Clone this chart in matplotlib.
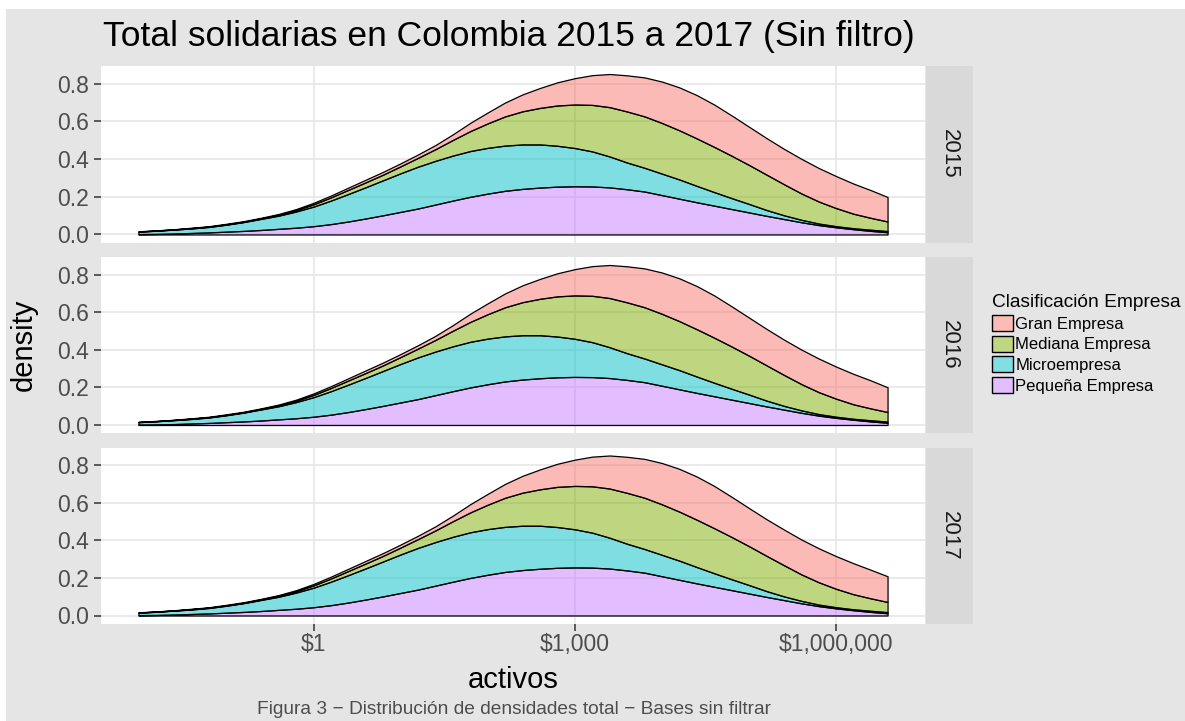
import numpy as np
import matplotlib
matplotlib.use("Agg")
import matplotlib.pyplot as plt
from matplotlib.patches import Rectangle, Patch
from matplotlib.colors import to_rgba, to_rgb

plt.rcParams['font.family'] = ['Liberation Sans', 'DejaVu Sans']

# ---------------- data ----------------
years = ["2015", "2016", "2017"]
categories = ["Gran Empresa", "Mediana Empresa", "Microempresa", "Pequeña Empresa"]
cat_colors = ["#F8766D", "#7CAE00", "#00BFC4", "#C77CFF"]

# x positions of the density estimates (log10 of activos)
activos_log10 = [-2.01, -1.8, -1.6, -1.4, -1.2, -1.0, -0.8, -0.6, -0.4, -0.2,
                 0.0, 0.2, 0.4, 0.6, 0.8, 1.0, 1.2, 1.4, 1.6, 1.8,
                 2.0, 2.2, 2.4, 2.6, 2.8, 3.0, 3.2, 3.4, 3.6, 3.8,
                 4.0, 4.2, 4.4, 4.6, 4.8, 5.0, 5.2, 5.4, 5.6, 5.8,
                 6.0, 6.2, 6.4, 6.59]

# densities per category (stacked bottom -> top: Pequeña, Micro, Mediana, Gran)
pequena_2015 = [0.002, 0.003, 0.005, 0.008, 0.011, 0.015, 0.019, 0.024, 0.030, 0.036,
                0.044, 0.055, 0.069, 0.085, 0.102, 0.120, 0.138, 0.159, 0.180, 0.200,
                0.217, 0.232, 0.242, 0.249, 0.254, 0.256, 0.255, 0.250, 0.240, 0.228,
                0.209, 0.190, 0.171, 0.153, 0.135, 0.117, 0.099, 0.082, 0.065, 0.050,
                0.038, 0.028, 0.019, 0.012]
micro_2015 = [0.013, 0.017, 0.021, 0.024, 0.029, 0.037, 0.047, 0.059, 0.070, 0.086,
              0.104, 0.125, 0.146, 0.166, 0.186, 0.205, 0.222, 0.232, 0.239, 0.243,
              0.243, 0.240, 0.236, 0.229, 0.217, 0.203, 0.186, 0.164, 0.142, 0.126,
              0.114, 0.102, 0.087, 0.072, 0.058, 0.045, 0.031, 0.020, 0.013, 0.008,
              0.006, 0.005, 0.006, 0.006]
mediana_2015 = [0.001, 0.001, 0.001, 0.002, 0.002, 0.002, 0.002, 0.003, 0.005, 0.007,
                0.012, 0.017, 0.022, 0.026, 0.030, 0.037, 0.047, 0.062, 0.083, 0.106,
                0.130, 0.155, 0.176, 0.194, 0.214, 0.231, 0.247, 0.262, 0.271, 0.273,
                0.269, 0.261, 0.252, 0.240, 0.225, 0.207, 0.188, 0.165, 0.140, 0.117,
                0.096, 0.077, 0.063, 0.051]
gran_2015 = [0.001, 0.001, 0.001, 0.002, 0.002, 0.003, 0.003, 0.003, 0.004, 0.006,
             0.008, 0.010, 0.012, 0.014, 0.015, 0.016, 0.018, 0.022, 0.030, 0.044,
             0.058, 0.074, 0.090, 0.106, 0.123, 0.140, 0.158, 0.176, 0.192, 0.207,
             0.220, 0.228, 0.230, 0.225, 0.214, 0.203, 0.194, 0.188, 0.184, 0.178,
             0.170, 0.160, 0.147, 0.130]

# 2016 reads the same as 2015 in the picture
pequena_2016 = list(pequena_2015)
micro_2016 = list(micro_2015)
mediana_2016 = list(mediana_2015)
gran_2016 = [0.001, 0.001, 0.001, 0.002, 0.002, 0.003, 0.003, 0.003, 0.004, 0.006,
             0.008, 0.010, 0.012, 0.014, 0.015, 0.016, 0.018, 0.022, 0.030, 0.044,
             0.058, 0.074, 0.090, 0.106, 0.123, 0.140, 0.158, 0.176, 0.192, 0.207,
             0.220, 0.228, 0.230, 0.225, 0.214, 0.203, 0.194, 0.188, 0.184, 0.179,
             0.171, 0.162, 0.149, 0.132]

# 2017: slightly heavier right tail
pequena_2017 = list(pequena_2015)
micro_2017 = list(micro_2015)
mediana_2017 = [0.001, 0.001, 0.001, 0.002, 0.002, 0.002, 0.002, 0.003, 0.005, 0.007,
                0.012, 0.017, 0.022, 0.026, 0.030, 0.037, 0.047, 0.062, 0.083, 0.106,
                0.130, 0.155, 0.176, 0.194, 0.214, 0.231, 0.247, 0.262, 0.271, 0.273,
                0.269, 0.261, 0.252, 0.240, 0.225, 0.207, 0.188, 0.166, 0.141, 0.119,
                0.098, 0.080, 0.066, 0.054]
gran_2017 = [0.001, 0.001, 0.001, 0.002, 0.002, 0.003, 0.003, 0.003, 0.004, 0.006,
             0.008, 0.010, 0.012, 0.014, 0.015, 0.016, 0.018, 0.022, 0.030, 0.044,
             0.058, 0.074, 0.090, 0.106, 0.123, 0.140, 0.158, 0.176, 0.192, 0.207,
             0.220, 0.228, 0.230, 0.225, 0.214, 0.203, 0.195, 0.190, 0.186, 0.181,
             0.174, 0.165, 0.152, 0.137]

x_ticks = [1, 1000, 1000000]
x_tick_labels = ["$1", "$1,000", "$1,000,000"]
y_ticks = [0.0, 0.2, 0.4, 0.6, 0.8]
y_tick_labels = ["0.0", "0.2", "0.4", "0.6", "0.8"]

title = "Total solidarias en Colombia 2015 a 2017 (Sin filtro)"
x_label = "activos"
y_label = "density"
legend_title = "Clasificación Empresa"
caption = "Figura 3 \u2212 Distribución de densidades total \u2212 Bases sin filtrar"

series = {
    "2015": [pequena_2015, micro_2015, mediana_2015, gran_2015],
    "2016": [pequena_2016, micro_2016, mediana_2016, gran_2016],
    "2017": [pequena_2017, micro_2017, mediana_2017, gran_2017],
}
stack_colors = [cat_colors[3], cat_colors[2], cat_colors[1], cat_colors[0]]

# ---------------- figure ----------------
W, H = 1185, 721
fig = plt.figure(figsize=(W / 100, H / 100), dpi=100)
fig.patch.set_facecolor("white")
BG = "#E5E5E5"
fig.add_artist(Rectangle((6 / W, 0), 1 - 6 / W, 1 - 9 / H, transform=fig.transFigure,
                         facecolor=BG, edgecolor="none", zorder=-10))

def fx(px):
    return px / W

def fy(py):
    return 1 - py / H

panel_left, panel_right = 101, 925
strip_left, strip_right = 926, 973
panel_rows = [(66, 242.5), (257, 433), (447.5, 623.5)]

x = 10 ** np.array(activos_log10)
lx0, lx1 = min(activos_log10), max(activos_log10)
pad_x = 0.05 * (lx1 - lx0)
totals = [np.sum(np.array(series[y]), axis=0).max() for y in years]
ymax = max(totals)
pad_y = 0.05 * ymax

for i, (year, (top, bot)) in enumerate(zip(years, panel_rows)):
    ax = fig.add_axes([fx(panel_left), fy(bot), fx(panel_right - panel_left), (bot - top) / H])
    ax.set_facecolor("white")
    ax.set_xscale("log")
    ax.set_xlim(10 ** (lx0 - pad_x), 10 ** (lx1 + pad_x))
    ax.set_ylim(-pad_y, ymax + pad_y)
    for s in ax.spines.values():
        s.set_visible(False)
    ax.set_axisbelow(True)
    ax.grid(True, which="major", color="#E6E6E6", linewidth=1.2)
    ax.minorticks_off()
    ax.set_xticks(x_ticks)
    ax.set_yticks(y_ticks)
    ax.set_yticklabels(y_tick_labels)
    ax.tick_params(axis="both", length=5, width=1.1, color="#333333",
                   labelsize=16.5, labelcolor="#4D4D4D")
    ax.tick_params(axis="y", pad=4)
    if i == len(years) - 1:
        ax.set_xticklabels(x_tick_labels)
        ax.tick_params(axis="x", pad=2)
    else:
        ax.set_xticklabels([])
        ax.tick_params(axis="x", length=0)

    base = np.zeros(len(x))
    for dens, col in zip(series[year], stack_colors):
        topv = base + np.array(dens)
        ax.fill_between(x, base, topv, facecolor=to_rgba(col, 0.5),
                        edgecolor="black", linewidth=0.9, zorder=2)
        base = topv

    # strip
    sax = fig.add_axes([fx(strip_left), fy(bot), fx(strip_right - strip_left), (bot - top) / H])
    sax.set_facecolor("#D9D9D9")
    sax.set_xticks([])
    sax.set_yticks([])
    for s in sax.spines.values():
        s.set_visible(False)
    sax.text(0.5, 0.5, year, rotation=-90, ha="center", va="center",
             fontsize=16, color="#1A1A1A", transform=sax.transAxes)

# titles
fig.text(fx(103), fy(46), title, fontsize=25.5, ha="left", va="baseline", color="black")
fig.text(fx(513), fy(688), x_label, fontsize=21, ha="center", va="baseline", color="black")
fig.text(fx(24), fy(345), y_label, fontsize=21, ha="center", va="center",
         rotation=90, color="black")
fig.text(fx(514), fy(714), caption, fontsize=13.8, ha="center", va="baseline", color="#4D4D4D")

# legend
def blend(c, a=0.5):
    r, g, b = to_rgb(c)
    return (1 - a + a * r, 1 - a + a * g, 1 - a + a * b)

handles = [Patch(facecolor=blend(c), edgecolor="black", linewidth=1.0) for c in cat_colors]
leg = fig.legend(handles, categories, loc="upper left",
                 bbox_to_anchor=(fx(992), fy(294)), frameon=False,
                 fontsize=12, title=legend_title, title_fontsize=13.8,
                 handlelength=1.25, handleheight=1.1, handletextpad=0.15,
                 labelspacing=0.24, borderpad=0, borderaxespad=0, alignment="left")

fig.savefig("out.png", dpi=100, facecolor=fig.get_facecolor())
